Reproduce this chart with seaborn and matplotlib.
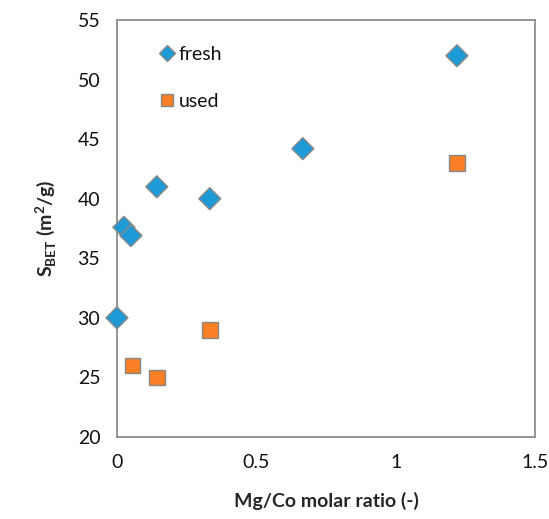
import matplotlib
matplotlib.use("Agg")
import matplotlib.pyplot as plt
import seaborn as sns
import pandas as pd

fresh_x = [0.0, 0.025, 0.05, 0.143, 0.333, 0.667, 1.22]
fresh_y = [30.0, 37.6, 36.9, 41.0, 40.0, 44.2, 52.0]
used_x = [0.055, 0.143, 0.333, 1.22]
used_y = [26.0, 25.0, 29.0, 43.0]
series = ["fresh", "used"]
x_ticks = [0, 0.5, 1, 1.5]
y_ticks = [20, 25, 30, 35, 40, 45, 50, 55]

df = pd.DataFrame({
    "x": fresh_x + used_x,
    "y": fresh_y + used_y,
    "s": [series[0]] * len(fresh_x) + [series[1]] * len(used_x),
})

sns.set_theme(style="white")
plt.rcParams["font.family"] = ["Lato", "DejaVu Sans"]
plt.rcParams["mathtext.fontset"] = "custom"
plt.rcParams["mathtext.rm"] = "Lato"
plt.rcParams["mathtext.bf"] = "Lato:bold"

fig = plt.figure(figsize=(5.49, 5.19), dpi=100)
ax = fig.add_axes([0.213, 0.158, 0.9745 - 0.213, 0.9615 - 0.158])

sns.scatterplot(data=df, x="x", y="y", hue="s", style="s",
                hue_order=series, style_order=series,
                palette={"fresh": "#1E9BD7", "used": "#FA7F25"},
                markers={"fresh": "D", "used": "s"},
                s=125, edgecolor="#888888", linewidth=1.0,
                ax=ax, zorder=3, clip_on=False)

ax.set_xlim(0, 1.5)
ax.set_ylim(20, 55)
ax.set_xticks(x_ticks)
ax.set_xticklabels(["0", "0.5", "1", "1.5"])
ax.set_yticks(y_ticks)
ax.tick_params(axis="both", direction="out", length=5, width=1, color="#8c8c8c",
               labelsize=14, pad=7, labelcolor="#111111")
for sp in ax.spines.values():
    sp.set_color("#8c8c8c")
    sp.set_linewidth(1.3)

ax.set_xlabel("Mg/Co molar ratio (-)", fontsize=14, fontweight="bold", labelpad=15)
ax.set_ylabel(r"S$_{\mathbf{BET}}$ (m$^{\mathbf{2}}$/g)", fontsize=14, fontweight="bold", labelpad=14)

handles, labels = ax.get_legend_handles_labels()
leg = ax.legend(handles, labels, loc="upper left", bbox_to_anchor=(0.05, 0.98),
                frameon=False, fontsize=14, markerscale=0.75, handletextpad=0.0,
                labelspacing=1.55, handlelength=1.2)
for t in leg.get_texts():
    t.set_color("#111111")

fig.savefig("out.png", dpi=100)
